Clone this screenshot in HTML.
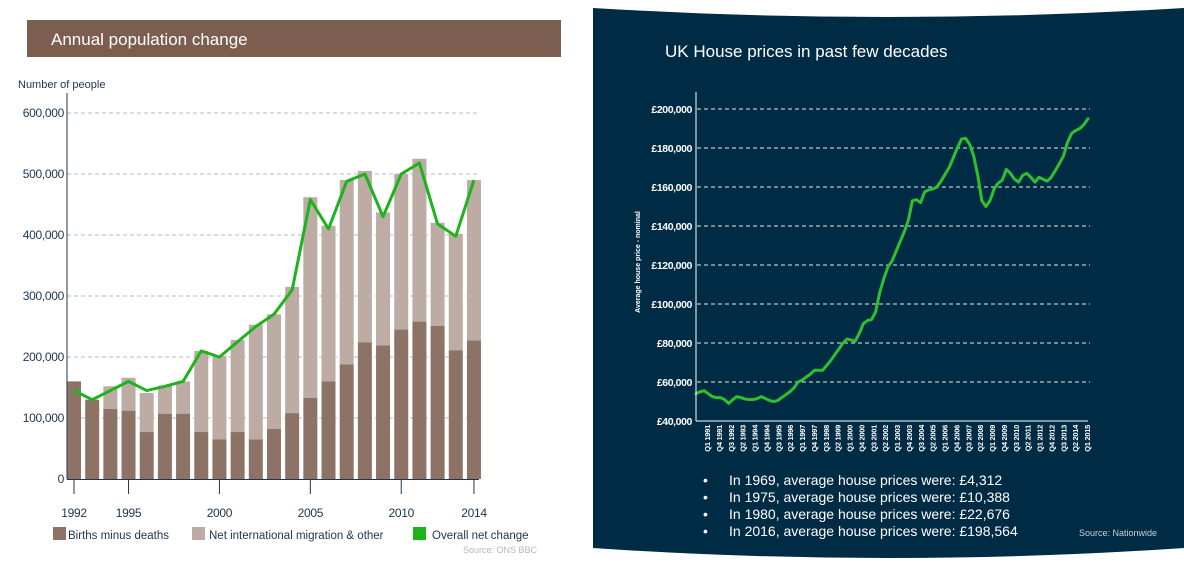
<!DOCTYPE html>
<html><head><meta charset="utf-8">
<style>
html,body{margin:0;padding:0;background:#fff;width:1184px;height:576px;overflow:hidden;font-family:"Liberation Sans",sans-serif;}
svg{display:block}
</style></head>
<body>
<svg id="root" width="1184" height="576" viewBox="0 0 1184 576">
  <g id="left">
    <rect x="27" y="20" width="534" height="37" fill="#7b5e4f"/>
    <text x="51" y="45" fill="#fff" font-size="17">Annual population change</text>
    <text x="18" y="88" fill="#1d3550" font-size="11">Number of people</text>
    <g id="lgrid"></g>
    <g id="lbars"></g>
    <g id="lline"></g>
    <g id="laxes"></g>
    <g>
      <rect x="53" y="527" width="13" height="13" fill="#8c7365"/>
      <text x="68" y="539" fill="#1d3550" font-size="11.5">Births minus deaths</text>
      <rect x="192" y="527" width="13" height="13" fill="#bcaca3"/>
      <text x="209" y="539" fill="#1d3550" font-size="11.5">Net international migration &amp; other</text>
      <rect x="413" y="527" width="13" height="13" fill="#1db31d"/>
      <text x="432" y="539" fill="#1d3550" font-size="11.5">Overall net change</text>
    </g>
    <text x="537" y="553" fill="#b5b5b5" font-size="9" text-anchor="end">Source:  ONS BBC</text>
  </g>
  <g id="right">
    <path d="M593 8 Q888 26 1184 8 L1184 548 Q888 568 593 548 Z" fill="#002b45"/>
    <text x="665" y="57" fill="#fff" font-size="17">UK House prices in past few decades</text>
    <text transform="translate(640,262) rotate(-90)" fill="#fff" font-size="7" font-weight="bold" text-anchor="middle">Average house price - nominal</text>
    <g id="rgrid"></g>
    <g id="rline"></g>
    <g id="raxes"></g>
    <g fill="#fff" font-size="14">
      <text x="703" y="485">•</text>
      <text x="729" y="485">In 1969, average house prices were: £4,312</text>
      <text x="703" y="502">•</text>
      <text x="729" y="502">In 1975, average house prices were: £10,388</text>
      <text x="703" y="519">•</text>
      <text x="729" y="519">In 1980, average house prices were: £22,676</text>
      <text x="703" y="536">•</text>
      <text x="729" y="536">In 2016, average house prices were: £198,564</text>
    </g>
    <text x="1157" y="536" fill="#c8d0d8" font-size="9" text-anchor="end">Source: Nationwide</text>
  </g>
</svg>
<script>
// ---- Left chart data ----
const years = [1992,1993,1994,1995,1996,1997,1998,1999,2000,2001,2002,2003,2004,2005,2006,2007,2008,2009,2010,2011,2012,2013,2014];
const births = [160,130,115,112,77,107,107,77,65,77,65,82,108,133,160,188,224,219,245,258,251,211,227];
const totals = [160,130,152,166,141,153,160,210,202,228,253,270,315,462,415,490,505,437,500,525,420,402,490];
const netChange = [145,130,145,160,145,152,160,210,200,225,250,270,310,458,410,488,500,430,500,518,418,398,490];
const popTicks = [0,100,200,300,400,500,600];
const popTickLabels = ["0","100,000","200,000","300,000","400,000","500,000","600,000"];
const yearLabels = [1992,1995,2000,2005,2010,2014];

// ---- Right chart data ----
const prices = [54,55,55.5,54,52.5,52,52,51,49,51,52.5,52,51.3,51,51,51.5,52.5,51.5,50.5,50,50.5,52,53.5,55,57,60,61,62.5,64,66,66,66,68.5,71,74,77,80,82,81.5,81,85,90,91.5,92,96,106,113,119,122,127,132,137,143,153,153.5,152,157.5,158.5,159,160,163,166.5,170,175,180,184.5,185,182,176,166,153,150,153,159,162,163.5,169,167,164,162.5,166,167,165,162.5,165,164,163,165,168.5,172,176,183,187.5,189,190,192,195];
const priceTicks = [40,60,80,100,120,140,160,180,200];
const priceTickLabels = ["£40,000","£60,000","£80,000","£100,000","£120,000","£140,000","£160,000","£180,000","£200,000"];
const quarterLabels = ["Q1 1991","Q4 1991","Q3 1992","Q2 1993","Q1 1994","Q4 1994","Q3 1995","Q2 1996","Q1 1997","Q4 1997","Q3 1998","Q2 1999","Q1 2000","Q4 2000","Q3 2001","Q2 2002","Q1 2003","Q4 2003","Q3 2004","Q2 2005","Q1 2006","Q4 2006","Q3 2007","Q2 2008","Q1 2009","Q4 2009","Q3 2010","Q2 2011","Q1 2012","Q4 2012","Q3 2013","Q2 2014","Q1 2015"];

const NS='http://www.w3.org/2000/svg';
function mk(tag, attrs, parent){const e=document.createElementNS(NS,tag);for(const k in attrs)e.setAttribute(k,attrs[k]);parent.appendChild(e);return e;}

// Left scales
const lx0=67, lpitch=18.18, bw=14;
const ly = v => 479 - v*0.61;
const lbx = i => lx0 + i*lpitch;
const lcx = i => lbx(i) + bw/2;
const yearX = y => lcx(years.indexOf(y));

const lgrid=document.getElementById('lgrid');
popTicks.forEach((t,i)=>{
  if(t>0){
    const g=mk('line',{x1:67,x2:479,y1:ly(t),y2:ly(t),stroke:'#a9bccb','stroke-width':1,'stroke-dasharray':'4,3'},lgrid);
    
    
  }
  const tx=mk('text',{x:64,y:ly(t)+4,'text-anchor':'end','font-size':12,fill:'#1d3550','letter-spacing':'-0.3'},lgrid);
  tx.textContent=popTickLabels[i];
  
  
});
const lbars=document.getElementById('lbars');
years.forEach((y,i)=>{
  const r1=mk('rect',{x:lbx(i),y:ly(totals[i]),width:bw,height:ly(births[i])-ly(totals[i]),fill:'#bcaca3'},lbars);
  
  
  const r2=mk('rect',{x:lbx(i),y:ly(births[i]),width:bw,height:479-ly(births[i]),fill:'#8c7365'},lbars);
  
  
});
const lline=document.getElementById('lline');
const lp=mk('polyline',{points:netChange.map((v,i)=>lcx(i)+','+ly(v)).join(' '),fill:'none',stroke:'#1db31d','stroke-width':3,'stroke-linejoin':'round'},lline);


const laxes=document.getElementById('laxes');
const yax=mk('line',{x1:67,x2:67,y1:93,y2:479,stroke:'#1d3550','stroke-width':1},laxes);


const xax=mk('line',{x1:67,x2:479,y1:479.5,y2:479.5,stroke:'#1d3550','stroke-width':1},laxes);


yearLabels.forEach(y=>{
  const x=yearX(y);
  const tk=mk('line',{x1:x,x2:x,y1:479,y2:494,stroke:'#1d3550','stroke-width':1},laxes);
  
  
  const t=mk('text',{x:x,y:517,'text-anchor':'middle','font-size':12,fill:'#1d3550','letter-spacing':'-0.3'},laxes);
  t.textContent=y;
  
  
});

// Right scales
const rx = i => 696 + i*(392/(prices.length-1));
const ry = v => 421 - (v-40)*1.95;
const rgrid=document.getElementById('rgrid');
priceTicks.forEach((t,i)=>{
  if(t>40){
    const g=mk('line',{x1:697,x2:1090,y1:ry(t),y2:ry(t),stroke:'#e6ecf0','stroke-width':1,'stroke-dasharray':'4,3'},rgrid);
    
    
  }
  const tx=mk('text',{x:692,y:ry(t)+4,'text-anchor':'end','font-size':10.5,'font-weight':'bold',fill:'#fff','letter-spacing':'-0.4'},rgrid);
  tx.textContent=priceTickLabels[i];
  
  
});
const rline=document.getElementById('rline');
const rp=mk('polyline',{points:prices.map((v,i)=>rx(i)+','+ry(v)).join(' '),fill:'none',stroke:'#2fbf2f','stroke-width':3,'stroke-linejoin':'round','stroke-linecap':'round'},rline);


const raxes=document.getElementById('raxes');
const ryax=mk('line',{x1:696,x2:696,y1:92,y2:421,stroke:'#fff','stroke-width':1},raxes);


const rxax=mk('line',{x1:696,x2:1088,y1:421,y2:421,stroke:'#fff','stroke-width':1},raxes);


const qx = i => 707 + i*((1087-707)/(quarterLabels.length-1));
quarterLabels.forEach((q,i)=>{
  const x=qx(i)+3;
  const t=mk('text',{transform:'translate('+x+',425) rotate(-90)','text-anchor':'end','font-size':7.5,'font-weight':'bold',fill:'#fff','letter-spacing':'-0.3'},raxes);
  t.textContent=q;
  
  
});
</script>
</body></html>
